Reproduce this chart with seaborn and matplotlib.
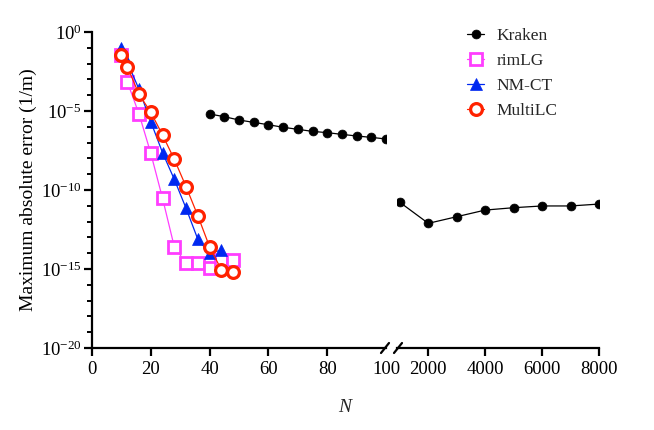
import numpy as np
import matplotlib
matplotlib.use("Agg")
import matplotlib.pyplot as plt
from matplotlib.lines import Line2D
from matplotlib.ticker import FixedLocator, NullFormatter
import seaborn as sns

# data (errors stored as log10 values)
n_conv = [10, 12, 16, 20, 24, 28, 32, 36, 40, 44, 48]
rimlg_log = [-1.46, -3.15, -5.19, -7.68, -10.53, -13.6, -14.64, -14.6, -14.95, -14.4, -14.4]
multilc_log = [-1.46, -2.19, -3.95, -5.08, -6.52, -8.06, -9.79, -11.63, -13.6, -15.05, -15.2]

n_nmct = [10, 12, 16, 20, 24, 28, 32, 36, 40, 44]
nmct_log = [-1.03, -1.9, -3.63, -5.68, -7.64, -9.33, -11.16, -13.12, -14.0, -13.8]

n_kraken_lo = [40, 45, 50, 55, 60, 65, 70, 75, 80, 85, 90, 95, 100]
kraken_lo_log = [-5.19, -5.36, -5.57, -5.72, -5.87, -6.03, -6.16, -6.29, -6.37, -6.48, -6.58, -6.67, -6.77]
n_kraken_hi = [1000, 2000, 3000, 4000, 5000, 6000, 7000, 8000]
kraken_hi_log = [-10.78, -12.11, -11.69, -11.27, -11.12, -11.01, -11.01, -10.89]

left_ticks = [0, 20, 40, 60, 80, 100]
right_ticks = [2000, 4000, 6000, 8000]
y_major_exp = [-20, -15, -10, -5, 0]

sns.set_theme(style="ticks")
plt.rcParams["font.family"] = ["Liberation Serif", "DejaVu Serif"]
plt.rcParams["mathtext.fontset"] = "custom"
plt.rcParams["mathtext.rm"] = "Liberation Serif"
plt.rcParams["mathtext.it"] = "Liberation Serif:italic"
plt.rcParams["mathtext.bf"] = "Liberation Serif:bold"

FS_TICK = 13.5
FS_LAB = 14
FS_LEG = 12.5
W, H = 654, 430
fig = plt.figure(figsize=(W / 100, H / 100), dpi=100)
x0, x1, x2, x3 = 92, 386, 397, 599
ytop, ybot = 32, 348
axL = fig.add_axes([x0 / W, 1 - ybot / H, (x1 - x0) / W, (ybot - ytop) / H])
axR = fig.add_axes([x2 / W, 1 - ybot / H, (x3 - x2) / W, (ybot - ytop) / H], sharey=axL)

for ax in (axL, axR):
    ax.set_yscale("log")
    ax.set_facecolor("none")

black = "#000000"
magenta = "#FF3DFF"
blue = "#0028F0"
red = "#FF2200"

kraken_style = dict(color=black, linewidth=0.9, marker="o", markersize=6.4,
                    markerfacecolor=black, markeredgecolor=black, markeredgewidth=0.5)
sns.lineplot(x=n_kraken_lo, y=10.0 ** np.array(kraken_lo_log), ax=axL, sort=False, **kraken_style)
sns.lineplot(x=n_kraken_hi, y=10.0 ** np.array(kraken_hi_log), ax=axR, sort=False, **kraken_style)

sns.lineplot(x=n_conv, y=10.0 ** np.array(rimlg_log), ax=axL, sort=False, color=magenta,
             linewidth=0.9, marker="s", markersize=8.5, markerfacecolor="white",
             markeredgecolor=magenta, markeredgewidth=2.0)
sns.lineplot(x=n_nmct, y=10.0 ** np.array(nmct_log), ax=axL, sort=False, color=blue,
             linewidth=0.9, marker="^", markersize=8.5, markerfacecolor=blue,
             markeredgecolor=blue, markeredgewidth=0.5)
sns.lineplot(x=n_conv, y=10.0 ** np.array(multilc_log), ax=axL, sort=False, color=red,
             linewidth=0.9, marker="o", markersize=8.5, markerfacecolor="white",
             markeredgecolor=red, markeredgewidth=2.3)

axL.set_ylim(1e-20, 1e0)
axL.set_xlim(0, 100)
axR.set_xlim(900, 8000)

axL.yaxis.set_major_locator(FixedLocator([10.0 ** e for e in y_major_exp]))
axL.yaxis.set_minor_locator(FixedLocator([10.0 ** e for e in range(-20, 1) if e % 5 != 0]))
axL.yaxis.set_minor_formatter(NullFormatter())
axL.set_yticklabels([f"$10^{{{e}}}$" for e in y_major_exp])

axL.set_xticks(left_ticks)
axL.set_xticklabels([str(t) for t in left_ticks])
axL.xaxis.get_major_ticks()[-1].tick1line.set_visible(False)
axR.set_xticks(right_ticks)
axR.set_xticklabels([str(t) for t in right_ticks])

for side in ("top", "right"):
    axL.spines[side].set_visible(False)
for side in ("top", "right", "left"):
    axR.spines[side].set_visible(False)
axR.tick_params(axis="y", which="both", left=False, labelleft=False)

for ax in (axL, axR):
    for sp in ax.spines.values():
        sp.set_linewidth(1.6)
        sp.set_color(black)
    ax.tick_params(which="major", length=5.5, width=1.6, color=black, labelsize=FS_TICK,
                   labelcolor=black, pad=2)
    ax.tick_params(which="minor", length=3.5, width=1.4, color=black)
    ax.tick_params(axis="x", which="major", pad=4)
    ax.set_xlabel("")
    ax.set_ylabel("")
    if ax.get_legend() is not None:
        ax.get_legend().remove()

axL.set_ylabel("Maximum absolute error (1/m)", fontsize=FS_LAB, color=black, labelpad=3)
fig.text(345 / W, 1 - 408 / H, "N", fontsize=FS_LAB, style="italic", ha="center", va="center")

# axis break marks
for xc in (x1 - 1, x2 + 1):
    fig.add_artist(Line2D([(xc - 4) / W, (xc + 4) / W], [1 - (ybot + 5) / H, 1 - (ybot - 5) / H],
                          transform=fig.transFigure, color=black, linewidth=1.6))

handles = [
    Line2D([], [], **kraken_style),
    Line2D([], [], color=magenta, linewidth=0.9, marker="s", markersize=8.5,
           markerfacecolor="white", markeredgecolor=magenta, markeredgewidth=2.0),
    Line2D([], [], color=blue, linewidth=0.9, marker="^", markersize=8.5,
           markerfacecolor=blue, markeredgecolor=blue, markeredgewidth=0.5),
    Line2D([], [], color=red, linewidth=0.9, marker="o", markersize=8.5,
           markerfacecolor="white", markeredgecolor=red, markeredgewidth=2.3),
]
fig.legend(handles, ["Kraken", "rimLG", "NM-CT", "MultiLC"], loc="upper left",
           bbox_to_anchor=(460 / W, 1 - 21 / H), frameon=False, fontsize=FS_LEG,
           handlelength=1.0, handletextpad=0.7, labelspacing=0.5, borderaxespad=0)

fig.savefig("out.png", dpi=100)
